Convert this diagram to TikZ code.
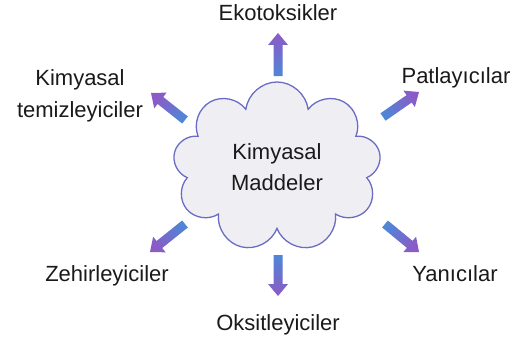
\documentclass[tikz,border=0pt]{standalone}
\usepackage{fontspec}
\setmainfont{Liberation Sans}
\usetikzlibrary{calc,shapes.symbols}
\definecolor{okMavi}{HTML}{4F86D6}
\definecolor{okMor}{HTML}{8C5AC6}
\definecolor{bulutDolgu}{HTML}{EFEFF3}
\definecolor{bulutCizgi}{HTML}{6A6CC4}
\definecolor{yaziRengi}{HTML}{1A1A1A}
\tikzset{
  etiket/.style={font=\fontsize{22}{32}\selectfont, text=yaziRengi, inner sep=0pt, align=center},
  bulutStil/.style={cloud, cloud puffs=9, cloud puff arc=165, aspect=1.25, draw=bulutCizgi, fill=bulutDolgu,
    line width=1.3pt, minimum width=208pt, minimum height=170pt, inner sep=0pt,
    font=\fontsize{22}{31}\selectfont, text=yaziRengi, align=center},
  okStil/.style={bottom color=okMavi, top color=okMor, draw=none}
}
% kuyruk, uc, yon
\newcommand{\blokOk}[3]{%
  \pgfmathsetmacro\okAcisi{#3-90}
  \shade[okStil, shading angle=\okAcisi] let \p1=(#1), \p2=(#2), \n1={veclen(\x2-\x1,\y2-\y1)} in
    ($(\p1)+(#3-90:4.5)$) -- ($(\p1)+(#3:\n1-12)+(#3-90:4.5)$) -- ($(\p1)+(#3:\n1-12)+(#3-90:10)$)
    -- (\p2) -- ($(\p1)+(#3:\n1-12)+(#3+90:10)$) -- ($(\p1)+(#3:\n1-12)+(#3+90:4.5)$)
    -- ($(\p1)+(#3+90:4.5)$) -- cycle;
}
\begin{document}
\begin{tikzpicture}[x=1pt,y=1pt]
\useasboundingbox (0,0) rectangle (531,341);
% Bulut
\node[bulutStil, shape border rotate=10] (bulut) at (277,174) {Kimyasal\\Maddeler};
% Etiketler
\node[etiket, anchor=base] (eko) at (278,320) {Ekotoksikler};
\node[etiket, anchor=base] (patlayici) at (456,258) {Patlayıcılar};
\node[etiket] (temizleyici) at (80,245) {Kimyasal\\temizleyiciler};
\node[etiket, anchor=base] (zehir) at (107,60) {Zehirleyiciler};
\node[etiket, anchor=base] (yanici) at (455,60) {Yanıcılar};
\node[etiket, anchor=base] (oksit) at (278,11) {Oksitleyiciler};
% Oklar
\coordinate (ekoK) at (278,265);
\coordinate (ekoU) at (278,308);
\coordinate (patK) at (383,224);
\coordinate (patU) at (419,249);
\coordinate (temK) at (185,221);
\coordinate (temU) at (151,248);
\coordinate (zehK) at (185,117);
\coordinate (zehU) at (150,89);
\coordinate (yanK) at (385,117);
\coordinate (yanU) at (419,89);
\coordinate (oksK) at (278,86);
\coordinate (oksU) at (278,45);
\blokOk{ekoK}{ekoU}{90}
\blokOk{patK}{patU}{34.8}
\blokOk{temK}{temU}{141.5}
\blokOk{zehK}{zehU}{218.7}
\blokOk{yanK}{yanU}{-39.5}
\blokOk{oksK}{oksU}{-90}
\end{tikzpicture}
\end{document}
